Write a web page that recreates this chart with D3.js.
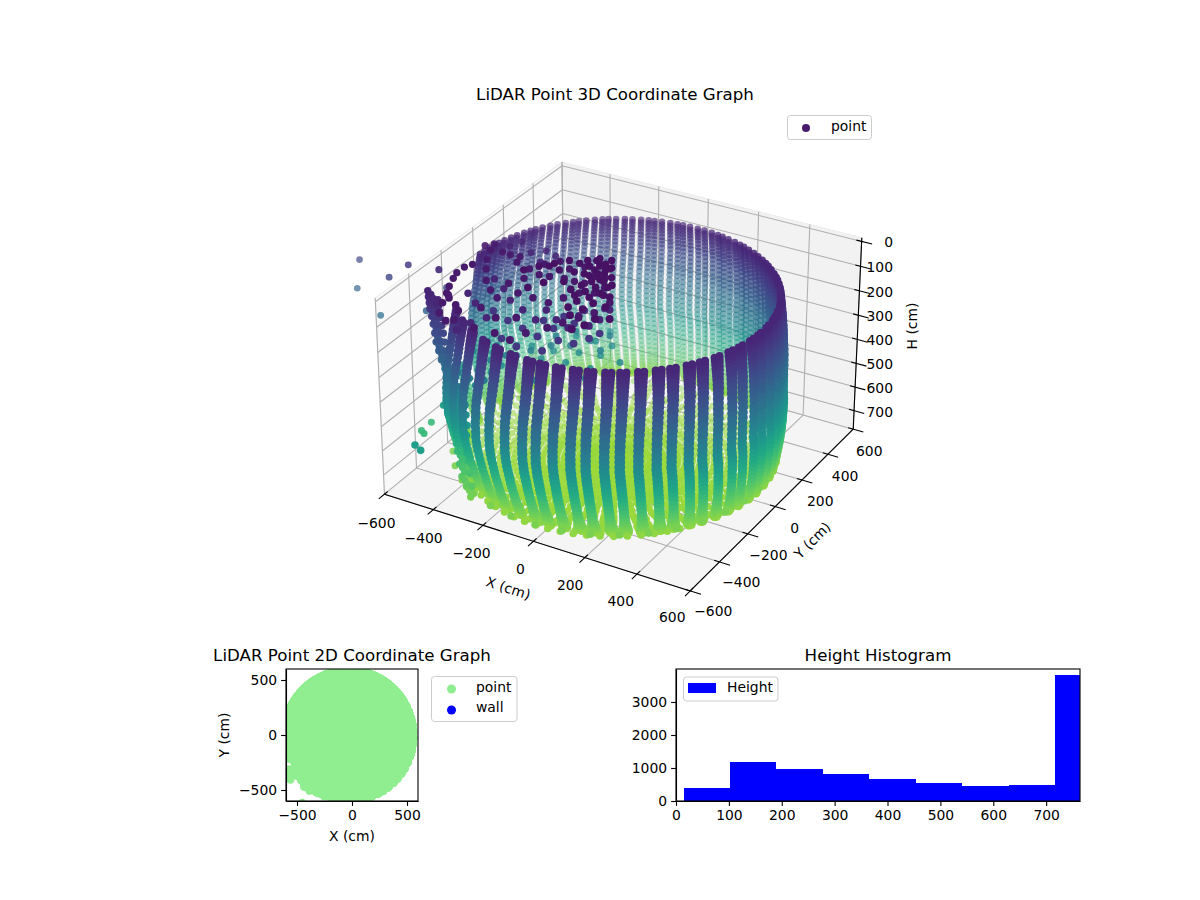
<!DOCTYPE html>
<html>
<head>
<meta charset="utf-8">
<script src="https://cdn.jsdelivr.net/npm/d3@7"></script>
<style>
  body { margin: 0; background: #fff; }
  text { font-family: "DejaVu Sans", sans-serif; fill: #000; }
</style>
</head>
<body>
<svg id="chart" width="1200" height="900"></svg>
<script>
// values, in cm
var pairAzimuth = [178,172,167,161,155,150,144,138,133,127,122,116,110,105,99,94,88,82,77,71,66,60,54,49,43,38,32,26,21,15,10,4,-2,-7,-13,-18,-24,-30,-35,-41,-46,-52,-58,-63,-69,-74,-80,-86,-91,-98,-105,-112,-120,-128,-137];
var shortAzimuth = [188,200,212];
var ringCentreX = -30;
var ringCentreY = -10;
var levelH = [100,112,124,137,150,165,180,196,212,230,248,266,284,302,320,340,360,380,400,420,440,460,480,500,520,540,560,580,600,620,640,658,675,690,704,716,727,737,746,754,760,764];
var levelRadius = [555,557,559,561,563,565,567,569,571,573,575,577,579,581,583,584,585,585,586,586,586,586,586,586,585,583,581,579,577,574,571,568,565,562,559,556,554,552,550,548,547,546];
var levelOffsetY = [25,24,23,22,21,20,19,18,17,15,13,11,9,7,5,3,2,1,0,0,0,0,3,6,9,12,15,18,21,24,27,30,32,34,36,38,40,42,44,46,48,50];
var frontSpread = [1.05,1,0.95,0.9,0.85,0.8,0.75,0.7,0.7,0.65,0.65,0.6,0.6,0.55,0.55,0.5,0.5,0.45,0.45,0.45,0.45,0.45,0.45,0.45,0.45,0.45,0.45,0.45,0.45,0.45,0.45,0.45,0.5,0.55,0.65,0.75,0.9,1.05,1.1,0.95,0.65,0.2];
var backSpread = [1.4,1.4,1.4,1.4,1.4,1.4,1.4,1.4,1.4,1.4,1.4,1.4,1.4,1.4,1.4,1.4,1.4,1.4,1.4,1.4,1.4,1.4,1.4,1.4,1.4,1.4,1.4,1.4,1.4,1.4,1.4,1.4,1.4,1.4,1.4,1.4,1.35,1.3,1.2,1,0.65,0.2];
var shortFirstLevel = 24;

var floorRadius = [25,50,75,100,125,150,175,200,225,250,275,300,325,350,375,400,425,450,475,500,525];
var floorAngle = [0,5,10,15,20,25,30,35,40,45,50,55,60,65,70,75,80,85,90,95,100,105,110,115,120,125,130,135,140,145,150,155,160,165,170,175,180,185,190,195,200,205,210,215,220,225,230,235,240,245,250,255,260,265,270,275,280,285,290,295,300,305,310,315,320,325,330,335,340,345,350,355];
var floorH = [772,776,770,774,778,771,775,769,773,777,770,774,768,772,776,770,766,771,767,764,760];
var outerRadius = [512,562];
var outerAngle = [2,12,22,32,42,52,62,72,82,92,102,112,122,132,142,152,162,172,182,192,202,212,222,232,242,252,262,272,282,292,302,312,322,332,342,352];
var outerH = [748,730];

var clutterX = [-527,-540,-540,-528,-509,-490,-464,-418,-388,-366,-386,-435,-464,-477,-565,-545,-486,-529,-503,-468,-423,-373,-324,-452,-403,-416,-340,-313,-278,-221,-183,-149,-102,-82,-118,-123,-160,-201,-252,-289,-320,-346,-282,-220,-157,-131,-103,-58,-47,21,12,-16,-43,-70,-112,-132,-201,-279,-195,-254,-334];
var clutterY = [-119,-150,-198,-239,-294,-339,-365,-395,-426,-486,-506,-470,-405,-349,22,50,10,2,-64,-125,-196,-247,-284,6,-30,11,-51,5,50,18,56,100,87,18,13,-47,-52,-51,-64,-70,-119,-176,-219,-224,-228,-173,-116,-90,-43,-125,-212,-268,-324,-379,-445,-512,-496,-500,-371,-405,-370];
var clutterH = [60,60,60,60,60,60,60,60,60,60,60,60,60,60,60,60,60,60,60,60,60,60,60,60,60,60,60,60,60,60,60,60,60,60,60,60,60,60,60,60,60,60,60,60,60,60,60,60,60,60,60,60,60,60,60,60,60,60,60,60,60];

var blobX = [-72,-104,-114,-115,-144,-131,-168,-72,-37,-64,-81,-97,-113,-162,-13,-15,-31,-53,-219,-263,-184,-144,28,-56,-83,-92,-109,-46,-8,-48,-64,-80,3,2,-7,-22,51,64,55,33,105,-100,-142,-171,-225,-258,-293,-324,-218,-245];
var blobY = [48,62,40,7,22,-35,-40,-1,-13,-45,-71,-112,-155,-118,-81,-130,-172,-216,-53,-46,23,70,-137,-267,26,-13,-39,-51,-61,-101,-143,-184,-136,-202,-255,-312,-205,-294,-349,-393,-270,96,88,55,24,-20,-64,-113,-158,-215];
var blobH = [30,30,30,30,30,30,30,30,30,30,30,30,30,30,30,30,30,30,30,30,30,30,30,30,30,30,30,30,30,30,30,30,30,30,30,30,30,30,30,30,30,30,30,30,30,30,30,30,30,30];

var arcX = [-54,-48,-106,-90,-145,-132,-190,20,7,-20,-75,-149,-222,-294,-374,-246,-174,-85];
var arcY = [-31,-109,-77,-173,-148,-238,-207,-191,-239,-294,-302,-313,-289,-267,-232,-385,-407,-389];
var arcH = [150,150,150,150,150,150,150,150,150,150,150,150,150,150,150,150,150,150];

var upperX = [10,16,7,-58,-46,-109,-174,-169,-243,-316,-379,-444,-438,-400,-373,-349,-510,-528,-466,-407,-319,-345,-360,-520];
var upperY = [-107,-184,-239,-195,-285,-257,-214,-291,-253,-215,-155,-111,119,157,75,138,174,124,-245,-291,-361,-418,-482,-356];
var upperH = [100,100,100,100,100,100,100,100,100,100,100,100,100,100,100,100,100,100,100,100,100,100,100,100];

var middleX = [-567,-503,-501,-426,-416,-341,-331,-323,-243,-239,-147,-163,-163,-79,-79,-127,-212,-269,-350,-431,-429,-512,-221,-230,-308,-402,-407];
var middleY = [-69,-113,-46,-108,-21,-83,2,72,21,105,28,125,205,116,11,-41,-66,-139,-170,-167,-272,-198,293,207,203,228,64];
var middleH = [450,450,450,450,450,450,450,450,450,450,450,450,450,450,450,450,450,450,450,450,450,450,450,450,450,450,450];

var strayX = [-1034,-869,-810,-1025,-892,-721,-673,-667,-579,-580,-560,-453,-417,-515,-472,-535,-487,-432,-427,-484,-431,-403,-347,-305,-246,-203,-162,-138,-283,-325,-385,-409,-469,-376];
var strayY = [-71,-130,-95,-106,-159,-125,-65,-118,-391,-327,-404,-617,-637,-345,-385,-227,-241,-249,-311,-295,-167,-112,-39,27,61,125,190,82,160,95,61,-33,-68,-298];
var strayH = [200,200,150,300,350,300,220,120,620,620,620,520,520,520,520,400,400,400,400,400,400,400,400,400,400,400,400,400,400,400,400,400,400,400];

// the thick stalk at the left end of the rim, four tracks side by side
var edgeX = [-584,-579,-573,-568,-558,-548,-539,-530,-517,-504,-489,-473,-459,-444,-431,-417,-410,-403,-400,-396,-371,-346,-318,-291,-554,-549,-543,-538,-528,-518,-509,-500,-487,-474,-459,-443,-429,-414,-401,-387,-380,-373,-370,-366,-341,-316,-288,-569,-564,-558,-553,-543,-533,-524,-515,-502,-489,-474,-458,-444,-429,-416,-402,-395,-388,-385,-381,-356,-331,-303,-524,-519,-513,-508,-498,-488,-479,-470,-457,-444,-429,-413,-399,-384,-371,-357,-350,-343,-340,-336,-311,-286];
var edgeY = [-313,-318,-323,-328,-334,-341,-347,-354,-359,-364,-367,-370,-374,-378,-394,-410,-426,-443,-445,-447,-473,-499,-515,-532,-328,-333,-338,-343,-349,-356,-362,-369,-374,-379,-382,-385,-389,-393,-409,-425,-441,-458,-460,-462,-488,-514,-530,-318,-323,-328,-333,-339,-346,-352,-359,-364,-369,-372,-375,-379,-383,-399,-415,-431,-448,-450,-452,-478,-504,-520,-343,-348,-353,-358,-364,-371,-377,-384,-389,-394,-397,-400,-404,-408,-424,-440,-456,-473,-475,-477,-503,-529];
var edgeH = [90,110,130,150,175,200,230,260,290,320,350,380,410,440,470,500,530,560,590,620,650,680,705,730,105,125,145,165,190,215,245,275,305,335,365,395,425,455,485,515,545,575,605,635,665,695,720,98,118,138,158,183,208,238,268,298,328,358,388,418,448,478,508,538,568,598,628,658,688,713,95,115,135,155,180,205,235,265,295,325,355,385,415,445,475,505,535,565,595,625,655,685];

var histEdges = [15,102,189,278,365,453,541,630,717,804];
var histCounts = [404,1193,980,828,677,556,465,495,3830];

var xyTicks = [-600,-400,-200,0,200,400,600];
var hTicks = [0,100,200,300,400,500,600,700];

var svg = d3.select('#chart');

function addText(parent, x, y, str, size, anchor, rotate) {
  var t = parent.append('text')
    .attr('x', x).attr('y', y)
    .attr('font-size', size)
    .attr('text-anchor', anchor || 'middle')
    .attr('dominant-baseline', 'middle')
    .text(str);
  if (rotate) t.attr('transform', 'rotate(' + rotate + ',' + x + ',' + y + ')');
  return t;
}

// 3D view: elevation 30, azimuth -60, camera at distance 10
var boxX = d3.scaleLinear().domain([-600, 600]).range([-0.571, 0.571]);
var boxY = d3.scaleLinear().domain([-600, 600]).range([-0.571, 0.571]);
var boxH = d3.scaleLinear().domain([780, -15]).range([-0.373, 0.373]);
var screenU = d3.scaleLinear().domain([-1, 1]).range([623 - 306, 623 + 306]);
var screenV = d3.scaleLinear().domain([-1, 1]).range([366 + 300, 366 - 300]);

function project(x, y, h) {
  var px = boxX(x), py = boxY(y), pz = boxH(h);
  var u = 0.866 * px + 0.5 * py;
  var v = -0.25 * px + 0.433 * py + 0.866 * pz;
  var d = 0.433 * px - 0.75 * py + 0.5 * pz;
  var f = 10 / (10 - d);
  return { x: screenU(u * f), y: screenV(v * f), depth: d };
}

// all points
var points = [];
function addPoint(x, y, h) {
  points.push({ wx: x, wy: y, h: h });
}
function addStalk(az, first) {
  var spread = (az > 30 && az < 210) ? backSpread : frontSpread;
  [-1, 1].forEach(function(side) {
    for (var i = first; i < levelH.length; i++) {
      var a = (az + side * spread[i]) * Math.PI / 180;
      addPoint(ringCentreX + levelRadius[i] * Math.cos(a), ringCentreY + levelOffsetY[i] + levelRadius[i] * Math.sin(a), levelH[i]);
    }
  });
}
pairAzimuth.forEach(function(az) { addStalk(az, 0); });
shortAzimuth.forEach(function(az) { addStalk(az, shortFirstLevel); });
function addFloor(radii, angles, heights) {
  radii.forEach(function(r, i) {
    angles.forEach(function(deg) {
      addPoint(ringCentreX + r * Math.cos(deg * Math.PI / 180), ringCentreY + r * Math.sin(deg * Math.PI / 180), heights[i]);
    });
  });
}
addFloor(floorRadius, floorAngle, floorH);
addFloor(outerRadius, outerAngle, outerH);
function addList(xs, ys, hs) {
  xs.forEach(function(x, i) { addPoint(x, ys[i], hs[i]); });
}
addList(clutterX, clutterY, clutterH);
addList(blobX, blobY, blobH);
addList(arcX, arcY, arcH);
addList(upperX, upperY, upperH);
addList(middleX, middleY, middleH);
addList(strayX, strayY, strayH);
addList(edgeX, edgeY, edgeH);

points.forEach(function(p) {
  var s = project(p.wx, p.wy, p.h);
  p.sx = s.x; p.sy = s.y; p.depth = s.depth;
});
points.sort(function(a, b) { return a.depth - b.depth; });

var colorPos = d3.scalePow().exponent(1.1).domain([0, 900]).range([0.02, 1]);
function color(h) { return d3.interpolateViridis(colorPos(h)); }
var shade = d3.scaleLinear().domain([-0.55, 0]).range([0.42, 1]).clamp(true);
var dotSize = d3.scaleLinear().domain([-0.45, 0.45]).range([3.2, 4]).clamp(true);

// panes
var g3 = svg.append('g');
var lineGen = d3.line().x(function(p) { return p.x; }).y(function(p) { return p.y; });
function pane(corners, fill) {
  g3.append('path')
    .attr('d', lineGen(corners.map(function(c) { return project(c[0], c[1], c[2]); })) + 'Z')
    .attr('fill', fill).attr('stroke', '#ececec').attr('stroke-width', 1);
}
var hLo = boxH.domain()[0], hHi = boxH.domain()[1];
pane([[-600,-600,hLo],[-600,600,hLo],[-600,600,hHi],[-600,-600,hHi]], '#f9f9f9');
pane([[-600,600,hLo],[600,600,hLo],[600,600,hHi],[-600,600,hHi]], '#f2f2f2');
pane([[-600,-600,hLo],[600,-600,hLo],[600,600,hLo],[-600,600,hLo]], '#f5f5f5');

function seg(a, b, stroke, width) {
  g3.append('path')
    .attr('d', lineGen([project(a[0], a[1], a[2]), project(b[0], b[1], b[2])]))
    .attr('fill', 'none').attr('stroke', stroke).attr('stroke-width', width);
}
var gridCol = '#b0b0b0';
xyTicks.forEach(function(v) {
  seg([v,-600,hLo], [v,600,hLo], gridCol, 1.1);
  seg([v,600,hLo], [v,600,hHi], gridCol, 1.1);
  seg([-600,v,hLo], [600,v,hLo], gridCol, 1.1);
  seg([-600,v,hLo], [-600,v,hHi], gridCol, 1.1);
});
hTicks.forEach(function(v) {
  seg([-600,-600,v], [-600,600,v], gridCol, 1.1);
  seg([-600,600,v], [600,600,v], gridCol, 1.1);
});

// axis lines and ticks, label offsets shrink or grow along each axis
var xLabelDx = d3.scaleLinear().domain([-600, 600]).range([-8, -18]);
var xLabelDy = d3.scaleLinear().domain([-600, 600]).range([30, 27]);
var yLabelDx = d3.scaleLinear().domain([-600, 600]).range([23, 16]);
var yLabelDy = d3.scaleLinear().domain([-600, 600]).range([21, 23]);
seg([-600,-600,hLo], [600,-600,hLo], '#000', 1.1);
seg([600,-600,hLo], [600,600,hLo], '#000', 1.1);
seg([600,600,hLo], [600,600,hHi], '#000', 1.1);
xyTicks.forEach(function(v) {
  seg([v,-580,hLo], [v,-635,hLo], '#000', 1.1);
  seg([580,v,hLo], [640,v,hLo], '#000', 1.1);
  var a = project(v, -600, hLo);
  addText(g3, a.x + xLabelDx(v), a.y + xLabelDy(v), d3.format('')(v), 13.9);
  var b = project(600, v, hLo);
  addText(g3, b.x + yLabelDx(v), b.y + yLabelDy(v), d3.format('')(v), 13.9);
});
hTicks.forEach(function(v) {
  seg([580,600,v], [640,600,v], '#000', 1.1);
  var c = project(600, 600, v);
  addText(g3, 893, c.y + 2, String(v), 13.9, 'end');
});
addText(g3, 508, 589, 'X (cm)', 13.9, 'middle', 18);
addText(g3, 813, 541, 'Y (cm)', 13.9, 'middle', -45);
addText(g3, 913, 326, 'H (cm)', 13.9, 'middle', -90);
addText(g3, 615, 95, 'LiDAR Point 3D Coordinate Graph', 16.67);

// scatter, cut at the left of the axes box
svg.append('clipPath').attr('id', 'clip3d')
  .append('rect').attr('x', 350).attr('y', 100).attr('width', 560).attr('height', 520);
svg.append('g').attr('clip-path', 'url(#clip3d)')
  .selectAll('circle').data(points).enter().append('circle')
  .attr('cx', function(p) { return p.sx; })
  .attr('cy', function(p) { return p.sy; })
  .attr('r', function(p) { return dotSize(p.depth); })
  .attr('fill', function(p) { return color(p.h); })
  .attr('fill-opacity', function(p) { return shade(p.depth); });

function legendBox(x, y, w, h) {
  svg.append('rect').attr('x', x).attr('y', y).attr('width', w).attr('height', h)
    .attr('rx', 3).attr('fill', '#fff').attr('fill-opacity', 0.8)
    .attr('stroke', '#ccc').attr('stroke-width', 1);
}
legendBox(787.5, 115.5, 84, 24);
svg.append('circle').attr('cx', 806).attr('cy', 128).attr('r', 4).attr('fill', color(60));
addText(svg, 831, 127, 'point', 13.9, 'start');

// 2D scatter
var g2 = svg.append('g');
var x2 = d3.scaleLinear().domain([-600, 600]).range([286, 418]);
var y2 = d3.scaleLinear().domain([-600, 600]).range([801, 669]);
svg.append('clipPath').attr('id', 'clip2d')
  .append('rect').attr('x', 286).attr('y', 669).attr('width', 132).attr('height', 132);
g2.append('g').attr('clip-path', 'url(#clip2d)')
  .selectAll('circle').data(points).enter().append('circle')
  .attr('cx', function(p) { return x2(p.wx); })
  .attr('cy', function(p) { return y2(p.wy); })
  .attr('r', 4.2)
  .attr('fill', 'lightgreen');

function styleAxis(sel) {
  sel.selectAll('text').attr('font-size', 13.9);
  sel.selectAll('line,path').attr('stroke-width', 1.1);
}
g2.append('g').attr('transform', 'translate(0,801)')
  .call(d3.axisBottom(x2).tickValues([-500,0,500]).tickSize(4.9).tickSizeOuter(0).tickPadding(4)).call(styleAxis);
g2.append('g').attr('transform', 'translate(286,0)')
  .call(d3.axisLeft(y2).tickValues([-500,0,500]).tickSize(4.9).tickSizeOuter(0).tickPadding(4)).call(styleAxis);
g2.append('rect').attr('x', 286).attr('y', 669).attr('width', 132).attr('height', 132)
  .attr('fill', 'none').attr('stroke', '#000').attr('stroke-width', 1.1);
addText(g2, 352, 656, 'LiDAR Point 2D Coordinate Graph', 16.67);
addText(g2, 352, 837, 'X (cm)', 13.9);
addText(g2, 225, 735, 'Y (cm)', 13.9, 'middle', -90);
legendBox(431.5, 676.5, 85.5, 45);
svg.append('circle').attr('cx', 451.5).attr('cy', 689).attr('r', 4.5).attr('fill', 'lightgreen');
svg.append('circle').attr('cx', 451.5).attr('cy', 710).attr('r', 4.5).attr('fill', 'blue');
addText(svg, 476, 688, 'point', 13.9, 'start');
addText(svg, 476, 708, 'wall', 13.9, 'start');

// histogram
var gh = svg.append('g');
var xh = d3.scaleLinear().domain([0, 764]).range([676, 1080]);
var yh = d3.scaleLinear().domain([0, 4000]).range([801, 669]);
svg.append('clipPath').attr('id', 'cliph')
  .append('rect').attr('x', 676).attr('y', 669).attr('width', 404).attr('height', 132);
gh.append('g').attr('clip-path', 'url(#cliph)')
  .selectAll('rect').data(histCounts).enter().append('rect')
  .attr('x', function(d, i) { return xh(histEdges[i]); })
  .attr('width', function(d, i) { return xh(histEdges[i + 1]) - xh(histEdges[i]); })
  .attr('y', function(d) { return yh(d); })
  .attr('height', function(d) { return yh(0) - yh(d); })
  .attr('fill', 'blue')
  .attr('shape-rendering', 'crispEdges');
gh.append('g').attr('transform', 'translate(0,801)')
  .call(d3.axisBottom(xh).tickValues([0,100,200,300,400,500,600,700]).tickFormat(d3.format('d')).tickSize(4.9).tickSizeOuter(0).tickPadding(4)).call(styleAxis);
gh.append('g').attr('transform', 'translate(676,0)')
  .call(d3.axisLeft(yh).tickValues([0,1000,2000,3000]).tickFormat(d3.format('d')).tickSize(4.9).tickSizeOuter(0).tickPadding(4)).call(styleAxis);
gh.append('rect').attr('x', 676).attr('y', 669).attr('width', 404).attr('height', 132)
  .attr('fill', 'none').attr('stroke', '#000').attr('stroke-width', 1.1);
addText(gh, 878, 656, 'Height Histogram', 16.67);
legendBox(683.5, 677, 94.5, 24);
svg.append('rect').attr('x', 688).attr('y', 683).attr('width', 28).attr('height', 10).attr('fill', 'blue');
addText(svg, 727, 688, 'Height', 13.9, 'start');
</script>
</body>
</html>
